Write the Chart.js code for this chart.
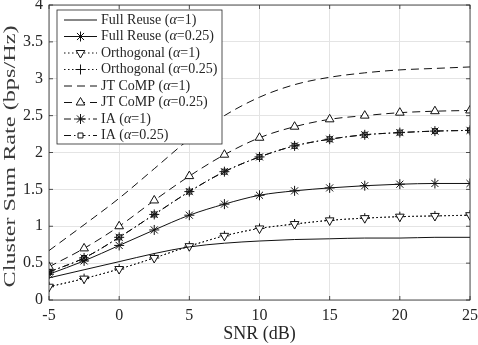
<!DOCTYPE html>
<html>
<head>
<meta charset="utf-8">
<script src="https://cdn.jsdelivr.net/npm/chart.js@4.4.1/dist/chart.umd.min.js"></script>
<style>
  html, body { margin: 0; padding: 0; background: #fff; }
</style>
</head>
<body>
<canvas id="myChart" width="478" height="345"></canvas>
<script>
  // SNR points (dB), one marker every 2.5 dB
  const snr = [-5, -2.5, 0, 2.5, 5, 7.5, 10, 12.5, 15, 17.5, 20, 22.5, 25];

  const fullReuse1 = [0.30, 0.41, 0.52, 0.63, 0.72, 0.77, 0.80, 0.82, 0.83, 0.84, 0.84, 0.85, 0.85];
  const fullReuse025 = [0.35, 0.53, 0.74, 0.95, 1.15, 1.30, 1.42, 1.48, 1.52, 1.55, 1.57, 1.58, 1.58];
  const orthogonal1 = [0.18, 0.29, 0.42, 0.57, 0.73, 0.87, 0.97, 1.03, 1.08, 1.11, 1.13, 1.14, 1.15];
  const orthogonal025 = [0.18, 0.29, 0.42, 0.57, 0.73, 0.87, 0.97, 1.03, 1.08, 1.11, 1.13, 1.14, 1.15];
  const jtComp1 = [0.67, 1.02, 1.38, 1.78, 2.18, 2.50, 2.75, 2.92, 3.02, 3.08, 3.12, 3.14, 3.16];
  const jtComp025 = [0.45, 0.70, 1.00, 1.35, 1.68, 1.97, 2.20, 2.35, 2.45, 2.50, 2.54, 2.56, 2.57];
  const ia1 = [0.38, 0.57, 0.85, 1.16, 1.47, 1.74, 1.94, 2.09, 2.18, 2.24, 2.27, 2.29, 2.30];
  const ia025 = [0.38, 0.57, 0.85, 1.16, 1.47, 1.74, 1.94, 2.09, 2.18, 2.24, 2.27, 2.29, 2.30];

  const seriesNames = ['Full Reuse', 'Full Reuse', 'Orthogonal', 'Orthogonal', 'JT CoMP', 'JT CoMP', 'IA', 'IA'];
  const alphaLabels = ['1', '0.25', '1', '0.25', '1', '0.25', '1', '0.25'];

  const xTicks = [-5, 0, 5, 10, 15, 20, 25];
  const yTicks = [0, 0.5, 1, 1.5, 2, 2.5, 3, 3.5, 4];
  const yTitle = 'Cluster Sum Rate (bps/Hz)';

  const serif = '"Liberation Serif", "DejaVu Serif", serif';
  const ink = '#262626';

  function pts(values) {
    return values.map((v, i) => ({ x: snr[i], y: v }));
  }

  // style per series: dash, marker, rotation
  const styles = [
    { dash: [], marker: false },
    { dash: [], marker: 'star' },
    { dash: [1.5, 2.5], marker: 'triangle', rot: 180 },
    { dash: [1.5, 2.5], marker: 'cross' },
    { dash: [8, 5], marker: false },
    { dash: [8, 5], marker: 'triangle' },
    { dash: [7, 3, 1.5, 3], marker: 'star' },
    { dash: [7, 3, 1.5, 3], marker: 'rect' }
  ];
  const allValues = [fullReuse1, fullReuse025, orthogonal1, orthogonal025, jtComp1, jtComp025, ia1, ia025];

  const datasets = allValues.map((vals, i) => {
    const st = styles[i];
    return {
      label: seriesNames[i] + ' (\u03b1=' + alphaLabels[i] + ')',
      data: pts(vals),
      borderColor: '#111',
      backgroundColor: '#fff',
      borderWidth: 1,
      borderDash: st.dash,
      cubicInterpolationMode: 'monotone',
      pointStyle: st.marker || 'circle',
      pointRotation: st.rot || 0,
      pointRadius: st.marker ? (st.marker === 'rect' ? 3.5 : 5) : 0,
      pointBorderColor: '#111',
      pointBackgroundColor: '#fff',
      pointBorderWidth: 1
    };
  });

  const frame = {
    id: 'frame',
    afterDraw(chart) {
      const ctx = chart.ctx;
      const a = chart.chartArea;
      const xs = chart.scales.x, ys = chart.scales.y;
      ctx.save();
      ctx.strokeStyle = ink;
      ctx.lineWidth = 0.8;
      ctx.setLineDash([]);
      ctx.strokeRect(a.left, a.top, a.right - a.left, a.bottom - a.top);
      ctx.beginPath();
      xTicks.forEach(t => {
        const px = xs.getPixelForValue(t);
        ctx.moveTo(px, a.bottom); ctx.lineTo(px, a.bottom - 4);
        ctx.moveTo(px, a.top); ctx.lineTo(px, a.top + 4);
      });
      yTicks.forEach(t => {
        const py = ys.getPixelForValue(t);
        ctx.moveTo(a.left, py); ctx.lineTo(a.left + 4, py);
        ctx.moveTo(a.right, py); ctx.lineTo(a.right - 4, py);
      });
      ctx.stroke();

      // y axis title, stretched along its length like the original export
      ctx.save();
      ctx.translate(11, (a.top + a.bottom) / 2 + 4);
      ctx.rotate(-Math.PI / 2);
      ctx.font = '17px ' + serif;
      const tw = ctx.measureText(yTitle).width;
      ctx.scale(262 / tw, 1);
      ctx.fillStyle = '#3a3a3a';
      ctx.textAlign = 'center';
      ctx.textBaseline = 'middle';
      ctx.fillText(yTitle, 0, 0);
      ctx.restore();

      // legend box
      const lx = 57, ly = 10, lw = 165, lh = 134;
      ctx.fillStyle = '#fff';
      ctx.fillRect(lx, ly, lw, lh);
      ctx.strokeRect(lx, ly, lw, lh);
      const rowH = 16.5;
      chart.data.datasets.forEach((ds, i) => {
        const cy = ly + 10 + i * rowH;
        ctx.strokeStyle = '#111';
        ctx.lineWidth = 1;
        ctx.setLineDash(ds.borderDash);
        ctx.beginPath();
        ctx.moveTo(64, cy); ctx.lineTo(97, cy);
        ctx.stroke();
        ctx.setLineDash([]);
        if (ds.pointRadius > 0) {
          ctx.fillStyle = '#fff';
          ctx.strokeStyle = '#111';
          Chart.helpers.drawPoint(ctx, {
            pointStyle: ds.pointStyle,
            rotation: ds.pointRotation,
            radius: ds.pointRadius,
            borderWidth: 1
          }, 80.5, cy);
        }
        // text with italic alpha
        ctx.fillStyle = ink;
        ctx.textBaseline = 'middle';
        let tx = 101;
        const parts = [
          [seriesNames[i] + ' (', '14px ' + serif],
          ['\u03b1', 'italic 14px ' + serif],
          ['=' + alphaLabels[i] + ')', '14px ' + serif]
        ];
        parts.forEach(p => {
          ctx.font = p[1];
          ctx.fillText(p[0], tx, cy);
          tx += ctx.measureText(p[0]).width;
        });
      });
      ctx.restore();
    }
  };

  const ctx = document.getElementById('myChart').getContext('2d');
  const myChart = new Chart(ctx, {
    type: 'line',
    data: { datasets },
    plugins: [frame],
    options: {
      responsive: false,
      devicePixelRatio: 1,
      animation: false,
      layout: { autoPadding: false, padding: { top: 5, right: 8, left: 0, bottom: 0 } },
      plugins: {
        legend: { display: false },
        tooltip: { enabled: false }
      },
      scales: {
        x: {
          type: 'linear',
          min: -5,
          max: 25,
          afterBuildTicks: s => { s.ticks = xTicks.map(v => ({ value: v })); },
          afterFit: s => { s.height = 45; s.paddingLeft = 0; s.paddingRight = 0; },
          grid: { color: '#e4e4e4', drawTicks: false },
          border: { display: false },
          ticks: { color: ink, padding: 6, font: { family: serif, size: 16 }, callback: v => String(v) },
          title: {
            display: true,
            text: 'SNR (dB)',
            color: ink,
            padding: { top: 0, bottom: 0 },
            font: { family: serif, size: 18 }
          }
        },
        y: {
          min: 0,
          max: 4,
          afterBuildTicks: s => { s.ticks = yTicks.map(v => ({ value: v })); },
          afterFit: s => { s.width = 49; s.paddingTop = 0; s.paddingBottom = 0; },
          grid: { color: '#e4e4e4', drawTicks: false },
          border: { display: false },
          ticks: { color: ink, padding: 6, font: { family: serif, size: 16 }, callback: v => String(v) },
          title: { display: false }
        }
      }
    }
  });
</script>
</body>
</html>
